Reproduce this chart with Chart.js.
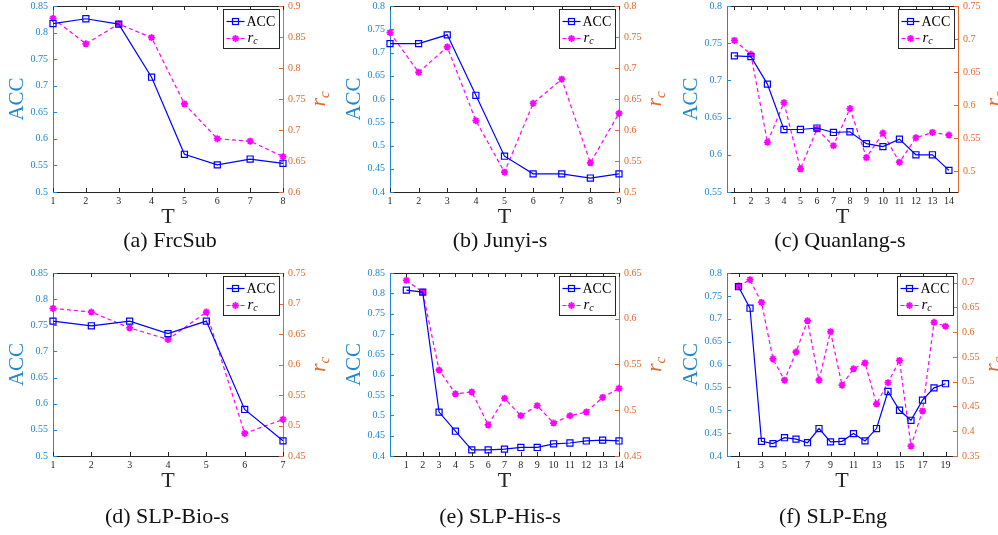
<!DOCTYPE html>
<html>
<head>
<meta charset="utf-8" />
<title>ACC and r_c versus T</title>
<style>
  body { margin: 0; background: #fff; width: 998px; height: 535px; position: relative; overflow: hidden; }
  canvas { position: absolute; }
  .cap { position: absolute; width: 300px; text-align: center; font-family: "Liberation Serif", "Times New Roman", serif;
         font-size: 22px; line-height: 22px; color: #111; }
</style>
</head>
<body>
<script src="https://cdn.jsdelivr.net/npm/chart.js@4/dist/chart.umd.min.js"></script>
<script>
// ---- data ----
var tA = [1, 2, 3, 4, 5, 6, 7, 8];
var accA = [0.817, 0.826, 0.816, 0.716, 0.571, 0.551, 0.562, 0.554];
var rcA = [0.880, 0.839, 0.871, 0.849, 0.742, 0.686, 0.682, 0.657];

var tB = [1, 2, 3, 4, 5, 6, 7, 8, 9];
var accB = [0.719, 0.719, 0.738, 0.608, 0.477, 0.439, 0.439, 0.430, 0.439];
var rcB = [0.757, 0.693, 0.734, 0.615, 0.532, 0.643, 0.682, 0.547, 0.627];

var tC = [1, 2, 3, 4, 5, 6, 7, 8, 9, 10, 11, 12, 13, 14];
var accC = [0.733, 0.732, 0.695, 0.634, 0.634, 0.636, 0.630, 0.631, 0.615, 0.611, 0.621, 0.600, 0.600, 0.579];
var rcC = [0.698, 0.677, 0.544, 0.604, 0.504, 0.564, 0.539, 0.595, 0.521, 0.558, 0.514, 0.551, 0.559, 0.555];

var tD = [1, 2, 3, 4, 5, 6, 7];
var accD = [0.758, 0.749, 0.758, 0.734, 0.758, 0.589, 0.529];
var rcD = [0.692, 0.686, 0.660, 0.641, 0.686, 0.487, 0.510];

var tE = [1, 2, 3, 4, 5, 6, 7, 8, 9, 10, 11, 12, 13, 14];
var accE = [0.808, 0.803, 0.508, 0.461, 0.415, 0.415, 0.417, 0.421, 0.421, 0.430, 0.432, 0.437, 0.439, 0.437];
var rcE = [0.642, 0.629, 0.544, 0.518, 0.520, 0.484, 0.513, 0.494, 0.505, 0.486, 0.494, 0.498, 0.514, 0.524];

var tF = [1, 2, 3, 4, 5, 6, 7, 8, 9, 10, 11, 12, 13, 14, 15, 16, 17, 18, 19];
var accF = [0.770, 0.723, 0.432, 0.427, 0.440, 0.437, 0.429, 0.460, 0.431, 0.432, 0.449, 0.433, 0.460,
            0.541, 0.500, 0.478, 0.522, 0.549, 0.558];
var rcF = [0.693, 0.706, 0.660, 0.546, 0.503, 0.560, 0.623, 0.503, 0.601, 0.493, 0.526, 0.538, 0.455,
           0.498, 0.543, 0.370, 0.441, 0.620, 0.612];

// tick labels
var xTicksA = tA, xTicksB = tB, xTicksC = tC, xTicksD = tD, xTicksE = tE;
var xTicksF = [1, 3, 5, 7, 9, 11, 13, 15, 17, 19];
var accTicksA = [0.5, 0.55, 0.6, 0.65, 0.7, 0.75, 0.8, 0.85];
var rcTicksA = [0.6, 0.65, 0.7, 0.75, 0.8, 0.85, 0.9];
var accTicksB = [0.4, 0.45, 0.5, 0.55, 0.6, 0.65, 0.7, 0.75, 0.8];
var rcTicksB = [0.5, 0.55, 0.6, 0.65, 0.7, 0.75, 0.8];
var accTicksC = [0.55, 0.6, 0.65, 0.7, 0.75, 0.8];
var rcTicksC = [0.5, 0.55, 0.6, 0.65, 0.7, 0.75];
var accTicksD = [0.5, 0.55, 0.6, 0.65, 0.7, 0.75, 0.8, 0.85];
var rcTicksD = [0.45, 0.5, 0.55, 0.6, 0.65, 0.7, 0.75];
var accTicksE = [0.4, 0.45, 0.5, 0.55, 0.6, 0.65, 0.7, 0.75, 0.8, 0.85];
var rcTicksE = [0.45, 0.5, 0.55, 0.6, 0.65];
var accTicksF = [0.4, 0.45, 0.5, 0.55, 0.6, 0.65, 0.7, 0.75, 0.8];
var rcTicksF = [0.35, 0.4, 0.45, 0.5, 0.55, 0.6, 0.65, 0.7];

var captions = ['(a) FrcSub', '(b) Junyi-s', '(c) Quanlang-s', '(d) SLP-Bio-s', '(e) SLP-His-s', '(f) SLP-Eng'];

// ---- look ----
var BLUE = '#2088cf', ORANGE = '#e0692c', DARK = '#262626';
var SERIF = '"Liberation Serif", "Times New Roman", serif';

function fmt(v) { return String(+Number(v).toFixed(3)); }

function line(ctx, x1, y1, x2, y2) {
  ctx.beginPath(); ctx.moveTo(x1, y1); ctx.lineTo(x2, y2); ctx.stroke();
}

// inward ticks, box top, axis titles and legend, the MATLAB way
var decor = {
  id: 'decor',
  afterDraw: function (chart) {
    var ctx = chart.ctx, a = chart.chartArea;
    var sx = chart.scales.x, sy = chart.scales.y, sy1 = chart.scales.y1;
    ctx.save();
    ctx.lineWidth = 1;
    ctx.strokeStyle = DARK;
    line(ctx, a.left, a.top + 0.5, a.right, a.top + 0.5);
    sx.ticks.forEach(function (t) {
      var px = Math.round(sx.getPixelForValue(t.value)) + 0.5;
      line(ctx, px, a.bottom, px, a.bottom - 4);
      line(ctx, px, a.top, px, a.top + 4);
    });
    ctx.strokeStyle = BLUE;
    sy.ticks.forEach(function (t) {
      var py = Math.round(sy.getPixelForValue(t.value)) + 0.5;
      line(ctx, a.left, py, a.left + 4, py);
    });
    ctx.strokeStyle = ORANGE;
    sy1.ticks.forEach(function (t) {
      var py = Math.round(sy1.getPixelForValue(t.value)) + 0.5;
      line(ctx, a.right, py, a.right - 4, py);
    });

    var cy = (a.top + a.bottom) / 2;
    // ACC
    ctx.save();
    ctx.translate(a.left - 36, cy);
    ctx.rotate(-Math.PI / 2);
    ctx.font = '21px ' + SERIF;
    ctx.fillStyle = BLUE;
    ctx.textAlign = 'center';
    ctx.textBaseline = 'middle';
    ctx.fillText('ACC', 0, 0);
    ctx.restore();
    // T
    ctx.font = '22px ' + SERIF;
    ctx.fillStyle = DARK;
    ctx.textAlign = 'center';
    ctx.textBaseline = 'middle';
    ctx.fillText('T', (a.left + a.right) / 2, a.bottom + 25);
    // r_c
    ctx.save();
    ctx.translate(a.right + 37, cy);
    ctx.rotate(-Math.PI / 2);
    ctx.fillStyle = ORANGE;
    ctx.textAlign = 'left';
    ctx.textBaseline = 'alphabetic';
    ctx.font = 'italic 22px ' + SERIF;
    var wr = ctx.measureText('r').width;
    ctx.font = 'italic 15px ' + SERIF;
    var wc = ctx.measureText('c').width;
    var x0 = -(wr + wc) / 2;
    ctx.font = 'italic 22px ' + SERIF;
    ctx.fillText('r', x0, 5);
    ctx.font = 'italic 15px ' + SERIF;
    ctx.fillText('c', x0 + wr, 9);
    ctx.restore();

    // legend box
    var bw = 56, bh = 39, bx = Math.round(a.right - 4 - bw) + 0.5, by = Math.round(a.top + 3) + 0.5;
    ctx.fillStyle = '#fff';
    ctx.fillRect(bx, by, bw, bh);
    ctx.strokeStyle = DARK;
    ctx.strokeRect(bx, by, bw, bh);
    var r1 = by + 12, r2 = by + 29;
    ctx.strokeStyle = '#0000ff';
    ctx.lineWidth = 1.2;
    line(ctx, bx + 3, r1, bx + 21, r1);
    ctx.strokeRect(bx + 9, r1 - 3, 6, 6);
    ctx.strokeStyle = '#ff00ff';
    ctx.setLineDash([4, 3]);
    line(ctx, bx + 3, r2, bx + 21, r2);
    ctx.setLineDash([]);
    ctx.lineWidth = 1.8;
    for (var k = 0; k < 4; k++) {
      var ang = k * Math.PI / 4;
      line(ctx, bx + 12 - 3.5 * Math.cos(ang), r2 - 3.5 * Math.sin(ang), bx + 12 + 3.5 * Math.cos(ang), r2 + 3.5 * Math.sin(ang));
    }
    ctx.fillStyle = '#000';
    ctx.textAlign = 'left';
    ctx.textBaseline = 'middle';
    ctx.font = '14px ' + SERIF;
    ctx.fillText('ACC', bx + 23, r1 + 1);
    ctx.font = 'italic 15px ' + SERIF;
    ctx.fillText('r', bx + 24, r2);
    var wr2 = ctx.measureText('r').width;
    ctx.font = 'italic 10px ' + SERIF;
    ctx.fillText('c', bx + 24 + wr2, r2 + 3);
    ctx.restore();
  }
};

function yScale(pos, min, max, ticks, color, width) {
  return {
    type: 'linear', position: pos, min: min, max: max,
    afterBuildTicks: function (s) { s.ticks = ticks.map(function (v) { return { value: v }; }); },
    afterFit: function (s) { s.width = width; },
    grid: { display: false, drawTicks: false },
    border: { color: color, width: 1 },
    ticks: { color: color, padding: 5, font: { family: SERIF, size: 10 }, callback: fmt }
  };
}

function panel(p) {
  var cv = document.createElement('canvas');
  cv.width = p.w; cv.height = p.h;
  cv.style.left = p.x + 'px'; cv.style.top = p.y + 'px';
  document.body.appendChild(cv);

  new Chart(cv, {
    type: 'line',
    data: {
      datasets: [
        {
          label: 'ACC', yAxisID: 'y', clip: false,
          data: p.t.map(function (t, i) { return { x: t, y: p.acc[i] }; }),
          borderColor: '#0000ff', borderWidth: 1.2, tension: 0,
          pointStyle: 'rect', pointRadius: 4.3, pointBorderWidth: 1.2,
          pointBorderColor: '#0000ff', pointBackgroundColor: 'rgba(0,0,0,0)'
        },
        {
          label: 'rc', yAxisID: 'y1', clip: false,
          data: p.t.map(function (t, i) { return { x: t, y: p.rc[i] }; }),
          borderColor: '#ff00ff', borderWidth: 1.2, borderDash: [4, 3], tension: 0,
          pointStyle: 'star', pointRadius: 3.5, pointBorderWidth: 1.8,
          pointBorderColor: '#ff00ff', pointBackgroundColor: '#ff00ff'
        }
      ]
    },
    options: {
      responsive: false, animation: false, events: [],
      layout: { padding: { top: p.area.t - p.y, left: 0, right: 0, bottom: 0 } },
      plugins: { legend: { display: false }, tooltip: { enabled: false } },
      scales: {
        x: {
          type: 'linear', min: p.xmin, max: p.xmax,
          afterBuildTicks: function (s) { s.ticks = p.xt.map(function (v) { return { value: v }; }); },
          afterFit: function (s) { s.height = p.y + p.h - p.area.b; },
          grid: { display: false, drawTicks: false },
          border: { color: DARK, width: 1 },
          ticks: { color: DARK, padding: 3, maxRotation: 0, autoSkip: false, font: { family: SERIF, size: 10 } }
        },
        y: yScale('left', p.accMin, p.accMax, p.accT, BLUE, p.area.l - p.x),
        y1: yScale('right', p.rcMin, p.rcMax, p.rcT, ORANGE, p.x + p.w - p.area.r)
      }
    },
    plugins: [decor]
  });

  var cap = document.createElement('div');
  cap.className = 'cap';
  cap.textContent = p.cap;
  cap.style.left = (p.capX - 150) + 'px';
  cap.style.top = p.capY + 'px';
  document.body.appendChild(cap);
}

var top1 = { y: -10, h: 245 }, top2 = { y: 255, h: 240 };

panel({ x: 0, w: 335, y: top1.y, h: top1.h, area: { l: 53, r: 283, t: 6, b: 192 },
  t: tA, acc: accA, rc: rcA, xt: xTicksA, xmin: 1, xmax: 8,
  accMin: 0.5, accMax: 0.85, accT: accTicksA, rcMin: 0.6, rcMax: 0.9, rcT: rcTicksA,
  cap: captions[0], capX: 170, capY: 229 });
panel({ x: 333, w: 340, y: top1.y, h: top1.h, area: { l: 390, r: 619, t: 6, b: 192 },
  t: tB, acc: accB, rc: rcB, xt: xTicksB, xmin: 1, xmax: 9,
  accMin: 0.4, accMax: 0.8, accT: accTicksB, rcMin: 0.5, rcMax: 0.8, rcT: rcTicksB,
  cap: captions[1], capX: 500, capY: 229 });
panel({ x: 668, w: 330, y: top1.y, h: top1.h, area: { l: 727, r: 958, t: 6, b: 192 },
  t: tC, acc: accC, rc: rcC, xt: xTicksC, xmin: 0.55, xmax: 14.55,
  accMin: 0.55, accMax: 0.8, accT: accTicksC, rcMin: 0.469, rcMax: 0.75, rcT: rcTicksC,
  cap: captions[2], capX: 840, capY: 229 });
panel({ x: 0, w: 335, y: top2.y, h: top2.h, area: { l: 53, r: 283, t: 273, b: 456 },
  t: tD, acc: accD, rc: rcD, xt: xTicksD, xmin: 1, xmax: 7,
  accMin: 0.5, accMax: 0.85, accT: accTicksD, rcMin: 0.45, rcMax: 0.75, rcT: rcTicksD,
  cap: captions[3], capX: 167, capY: 505 });
panel({ x: 333, w: 340, y: top2.y, h: top2.h, area: { l: 390, r: 619, t: 273, b: 456 },
  t: tE, acc: accE, rc: rcE, xt: xTicksE, xmin: 0, xmax: 14,
  accMin: 0.4, accMax: 0.85, accT: accTicksE, rcMin: 0.45, rcMax: 0.65, rcT: rcTicksE,
  cap: captions[4], capX: 500, capY: 505 });
panel({ x: 668, w: 330, y: top2.y, h: top2.h, area: { l: 727, r: 957, t: 273, b: 456 },
  t: tF, acc: accF, rc: rcF, xt: xTicksF, xmin: 0, xmax: 20,
  accMin: 0.4, accMax: 0.8, accT: accTicksF, rcMin: 0.35, rcMax: 0.7195, rcT: rcTicksF,
  cap: captions[5], capX: 833, capY: 505 });
</script>
</body>
</html>
